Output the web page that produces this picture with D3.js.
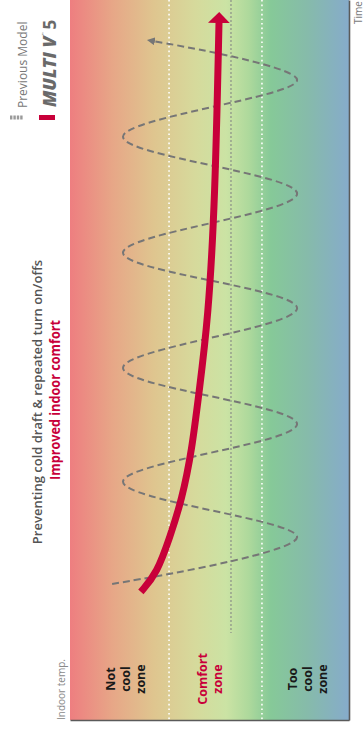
<!DOCTYPE html>
<html>
<head>
<meta charset="utf-8">
<script src="https://d3js.org/d3.v7.min.js"></script>
<style>
  body { margin: 0; background: #fff; }
  svg { display: block; }
  text { font-family: "Open Sans", "Noto Sans", sans-serif; }
</style>
</head>
<body>
<svg width="364" height="729"></svg>
<script>
// time runs 0..100 (bottom -> top of page), temp runs 0..100 (cold right -> hot left)
var prevModel = [
  [18.9, 84.9], [25.4, 18.6], [33.1, 81.0], [41.1, 18.6], [48.9, 81.0],
  [57.2, 18.6], [64.9, 81.0], [73.1, 18.6], [81.0, 81.0], [88.9, 18.6], [94.3, 70.3]
];
var multiV5 = [
  [17.8, 74.6], [20.4, 68.8], [25.4, 64.2], [30.6, 59.9], [37.5, 56.3],
  [45.4, 53.8], [55.6, 50.5], [72.2, 48.0], [96.8, 46.6]
];
var comfortBounds = [31.2, 64.5];
var targetTemp = 42.3;
var targetFrom = 12.1;
var zoneNames = [["Not", "cool", "zone"], ["Comfort", "zone"], ["Too", "cool", "zone"]];
var seriesNames = ["Previous Model", "MULTI V"];

var svg = d3.select("svg");
var plotL = 70, plotR = 349, plotT = 0, plotB = 720;

var x = d3.scaleLinear().domain([100, 0]).range([plotL, plotR]);   // temperature
var y = d3.scaleLinear().domain([0, 100]).range([plotB, plotT]);   // time

var defs = svg.append("defs");
var grad = defs.append("linearGradient").attr("id", "bg").attr("x1", "0").attr("x2", "1").attr("y1", "0").attr("y2", "0");
[[0, "#ee7e80"], [0.15, "#e7a687"], [0.3, "#dfc58f"], [0.45, "#d6da9c"], [0.56, "#cbe3a4"],
 [0.64, "#aed99c"], [0.72, "#86c998"], [0.85, "#86bbaa"], [1, "#86abcb"]].forEach(function(s) {
  grad.append("stop").attr("offset", s[0]).attr("stop-color", s[1]);
});

defs.append("marker").attr("id", "redHead")
  .attr("viewBox", "0 0 11 22").attr("refX", 0).attr("refY", 11)
  .attr("markerWidth", 11).attr("markerHeight", 22)
  .attr("markerUnits", "userSpaceOnUse").attr("orient", "auto")
  .append("path").attr("d", "M0,0L11,11L0,22Z").attr("fill", "#c8003a");

defs.append("marker").attr("id", "grayHead")
  .attr("viewBox", "0 0 8 8").attr("refX", 2).attr("refY", 4)
  .attr("markerWidth", 8).attr("markerHeight", 8)
  .attr("markerUnits", "userSpaceOnUse").attr("orient", "auto")
  .append("path").attr("d", "M0,0L8,4L0,8Z").attr("fill", "#767676");

svg.append("rect")
  .attr("x", plotL).attr("y", plotT)
  .attr("width", plotR - plotL).attr("height", plotB - plotT)
  .attr("fill", "url(#bg)");

// comfort zone borders
svg.selectAll(".bound")
  .data(comfortBounds)
  .enter().append("line")
  .attr("class", "bound")
  .attr("x1", function(d) { return x(d); }).attr("x2", function(d) { return x(d); })
  .attr("y1", plotT).attr("y2", plotB)
  .attr("stroke", "#fff").attr("stroke-width", 1.6)
  .attr("stroke-dasharray", "1.6,3");

// target temperature
svg.append("line")
  .attr("x1", x(targetTemp)).attr("x2", x(targetTemp))
  .attr("y1", y(100)).attr("y2", y(targetFrom))
  .attr("stroke", "#8a8f88").attr("stroke-width", 1.2)
  .attr("stroke-dasharray", "2,2");

// axes
svg.append("g")
  .attr("transform", "translate(" + plotR + ",0)")
  .call(d3.axisRight(y).ticks(0).tickSizeOuter(0))
  .select(".domain").attr("stroke", "#5a5a5a").attr("stroke-width", 1.6);
svg.append("g")
  .attr("transform", "translate(0," + plotB + ")")
  .call(d3.axisBottom(x).ticks(0).tickSizeOuter(0))
  .select(".domain").attr("stroke", "#5a5a5a").attr("stroke-width", 1.6);

var line = d3.line()
  .x(function(d) { return x(d[1]); })
  .y(function(d) { return y(d[0]); });

svg.append("path")
  .datum(prevModel)
  .attr("d", line.curve(d3.curveCatmullRom.alpha(0.5)))
  .attr("fill", "none")
  .attr("stroke", "#767676").attr("stroke-width", 2)
  .attr("stroke-dasharray", "7,4")
  .attr("marker-end", "url(#grayHead)");

svg.append("path")
  .datum(multiV5)
  .attr("d", line.curve(d3.curveBasis))
  .attr("fill", "none")
  .attr("stroke", "#c8003a").attr("stroke-width", 7)
  .attr("marker-end", "url(#redHead)");

function vtext(px, py, anchor) {
  return svg.append("text")
    .attr("transform", "translate(" + px + "," + py + ") rotate(-90)")
    .attr("text-anchor", anchor);
}

// zone labels
var zoneMid = [(100 + comfortBounds[1]) / 2, (comfortBounds[0] + comfortBounds[1]) / 2, comfortBounds[0] / 2];
var labelShift = [10.5, -1, 7];
zoneNames.forEach(function(lines, i) {
  var lh = 15;
  var cx = x(zoneMid[i]) + labelShift[i] - (lines.length - 1) * lh / 2;
  lines.forEach(function(word, j) {
    vtext(cx + j * lh, 679, "middle")
      .attr("font-size", 12.5).attr("font-weight", 700)
      .attr("fill", i === 1 ? "#c8003a" : "#1a1a1a")
      .text(word);
  });
});

// axis titles
vtext(65, 720, "start").attr("font-size", 10).attr("fill", "#8a8a8a").text("Indoor temp.");
vtext(362, 24, "start").attr("font-size", 10).attr("fill", "#7a7a7a").text("Time");

// headline
vtext(42, 402, "middle").attr("font-size", 13).attr("font-weight", 600).attr("fill", "#555")
  .text("Preventing cold draft & repeated turn on/offs");
vtext(60, 400, "middle").attr("font-size", 14).attr("font-weight", 700).attr("fill", "#c8003a")
  .attr("textLength", 160).attr("lengthAdjust", "spacingAndGlyphs")
  .text("Improved indoor comfort");

// legend
svg.append("line")
  .attr("x1", 10).attr("x2", 23).attr("y1", 117.5).attr("y2", 117.5)
  .attr("stroke", "#9a9a9a").attr("stroke-width", 4).attr("stroke-dasharray", "2.4,1");
vtext(27, 108, "start").attr("font-size", 12).attr("fill", "#777").text(seriesNames[0]);

svg.append("rect").attr("x", 39).attr("y", 115).attr("width", 16).attr("height", 5).attr("fill", "#c8003a");
var logo = vtext(56, 107, "start").attr("fill", "#6a6a6a");
logo.append("tspan").attr("font-size", 18).attr("font-weight", 900).attr("font-style", "italic").text(seriesNames[1]);
logo.append("tspan").attr("font-size", 4).attr("dy", -11).attr("dx", 1).text("™");
logo.append("tspan").attr("font-size", 17).attr("font-weight", 700).attr("dy", 11).attr("dx", 3).text("5");
</script>
</body>
</html>
